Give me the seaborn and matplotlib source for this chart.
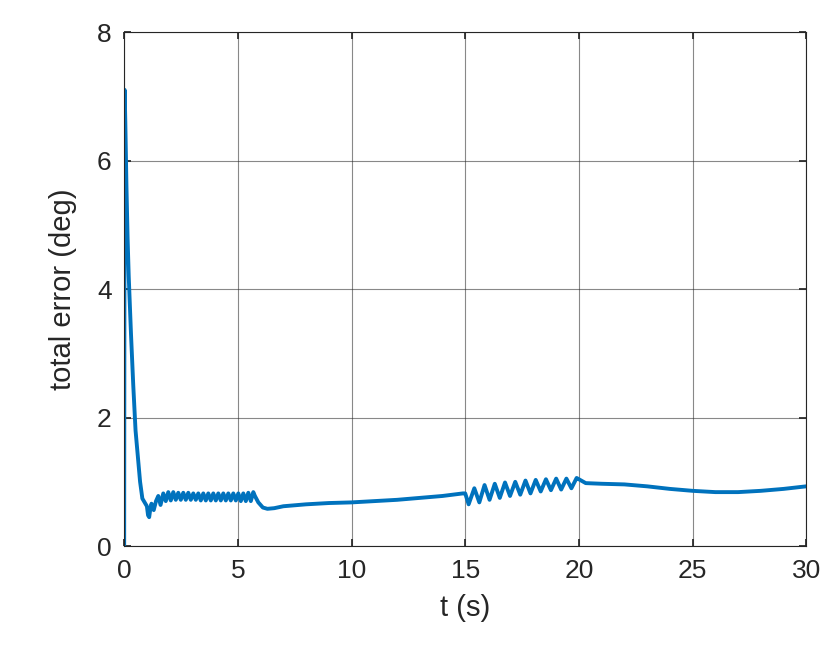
import matplotlib
matplotlib.use("Agg")
import matplotlib.pyplot as plt
import seaborn as sns
import pandas as pd

# initial transient
t_init = [0.0, 0.02, 0.05, 0.1, 0.15, 0.2, 0.3, 0.4, 0.5, 0.6, 0.7, 0.8, 0.9, 1.0, 1.05, 1.1, 1.15, 1.2, 1.3, 1.4]
e_init = [0.0, 7.1, 6.6, 5.6, 4.8, 4.2, 3.3, 2.5, 1.8, 1.4, 1.0, 0.74, 0.68, 0.62, 0.48, 0.45, 0.58, 0.66, 0.56, 0.70]
# first oscillation band (peak/trough alternation)
t_osc1 = [1.5, 1.6, 1.72, 1.83, 1.94, 2.05, 2.16, 2.27, 2.38, 2.49, 2.6, 2.71, 2.82, 2.93, 3.04, 3.15, 3.26, 3.37, 3.48, 3.59,
          3.7, 3.81, 3.92, 4.03, 4.14, 4.25, 4.36, 4.47, 4.58, 4.69, 4.8, 4.91, 5.02, 5.13, 5.24, 5.35, 5.46, 5.57, 5.68, 5.75]
e_osc1 = [0.78, 0.64, 0.82, 0.70, 0.84, 0.71, 0.84, 0.72, 0.83, 0.72, 0.83, 0.72, 0.83, 0.72, 0.82, 0.72, 0.82, 0.71, 0.82, 0.71,
          0.82, 0.71, 0.82, 0.71, 0.82, 0.71, 0.82, 0.71, 0.82, 0.71, 0.82, 0.71, 0.82, 0.70, 0.82, 0.70, 0.83, 0.70, 0.84, 0.78]
# smooth middle
t_mid = [5.9, 6.1, 6.3, 6.6, 7.0, 8.0, 9.0, 10.0, 11.0, 12.0, 13.0, 14.0, 14.9]
e_mid = [0.68, 0.60, 0.58, 0.59, 0.62, 0.65, 0.67, 0.68, 0.70, 0.72, 0.75, 0.78, 0.82]
# second oscillation band
t_osc2 = [15.0, 15.15, 15.4, 15.62, 15.85, 16.07, 16.3, 16.52, 16.75, 16.97, 17.2, 17.42, 17.65, 17.87, 18.1, 18.32,
          18.55, 18.77, 19.0, 19.22, 19.45, 19.67, 19.9, 20.0]
e_osc2 = [0.82, 0.65, 0.90, 0.68, 0.95, 0.72, 0.97, 0.75, 0.99, 0.78, 1.00, 0.80, 1.02, 0.82, 1.03, 0.85, 1.04, 0.87, 1.05, 0.88,
          1.05, 0.90, 1.06, 1.04]
# tail
t_tail = [20.3, 21.0, 22.0, 23.0, 24.0, 25.0, 26.0, 27.0, 28.0, 29.0, 30.0]
e_tail = [0.98, 0.97, 0.96, 0.93, 0.89, 0.86, 0.84, 0.84, 0.86, 0.89, 0.93]

df = pd.DataFrame({"t": t_init + t_osc1 + t_mid + t_osc2 + t_tail,
                   "e": e_init + e_osc1 + e_mid + e_osc2 + e_tail})

sns.set_theme(style="white")
plt.rcParams['font.family'] = ['Liberation Sans', 'DejaVu Sans']
fig = plt.figure(figsize=(8.39, 6.54), dpi=100)
ax = fig.add_axes([0.148, 0.165, 0.813, 0.786])
sns.lineplot(data=df, x="t", y="e", ax=ax, color="#0072BD", linewidth=2.8, sort=False, estimator=None)
ax.set_xlim(0, 30)
ax.set_ylim(0, 8)
ax.set_xticks([0, 5, 10, 15, 20, 25, 30])
ax.set_yticks([0, 2, 4, 6, 8])
ax.grid(True, color="#262626", alpha=0.55, linewidth=0.8)
for s in ax.spines.values():
    s.set_color("#262626"); s.set_linewidth(0.8); s.set_visible(True)
ax.tick_params(labelsize=19, colors="#262626", direction="in", length=5, pad=9,
               bottom=True, left=True, top=True, right=True, labeltop=False, labelright=False)
ax.set_xlabel("t (s)", fontsize=21, color="#262626", labelpad=8)
ax.set_ylabel("total error (deg)", fontsize=21, color="#262626", labelpad=14)
fig.savefig("out.png", dpi=100)
